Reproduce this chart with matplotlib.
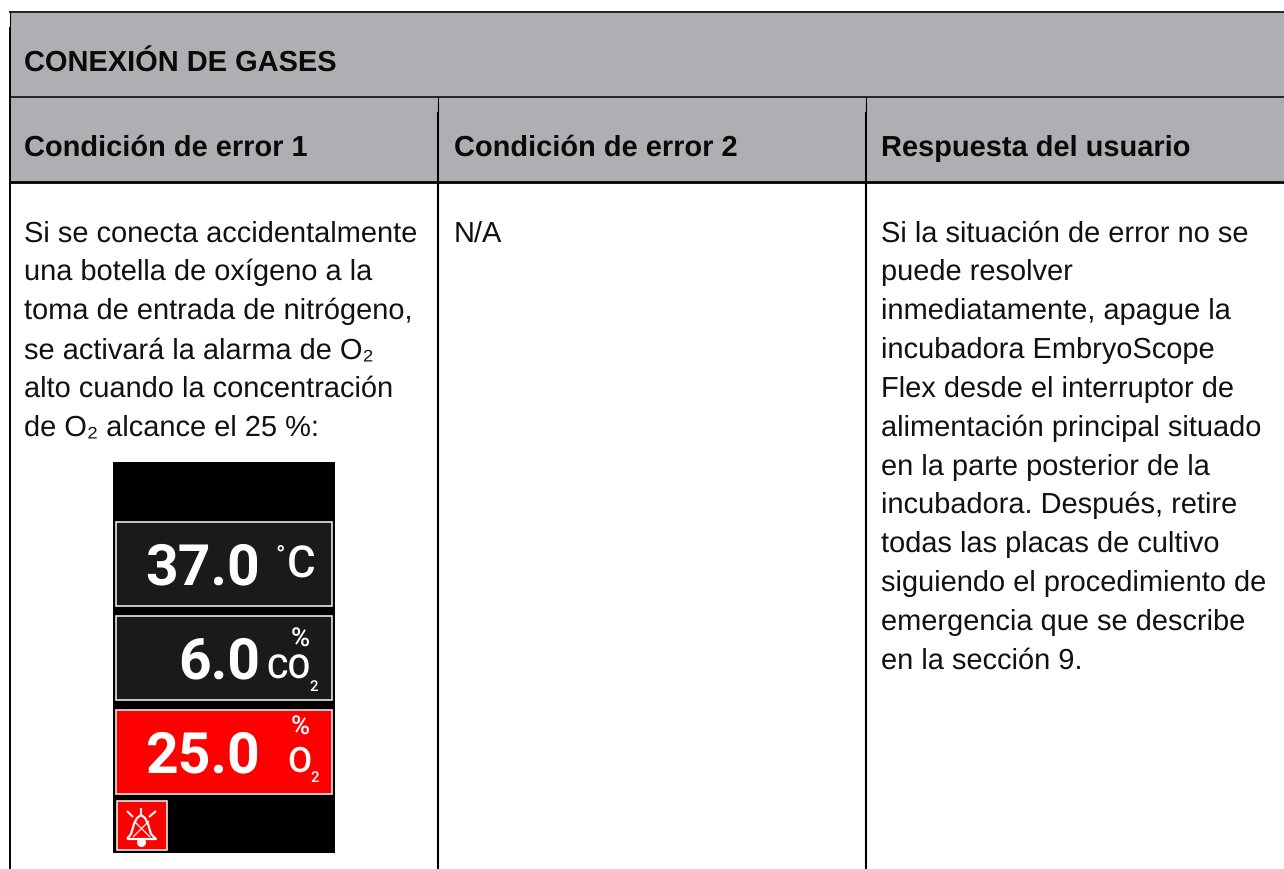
import matplotlib
matplotlib.use("Agg")
import matplotlib.pyplot as plt
from matplotlib.patches import Rectangle

plt.rcParams["font.family"] = ["Liberation Sans", "DejaVu Sans"]
plt.rcParams["text.hinting"] = "none"
plt.rcParams["text.hinting_factor"] = 1

TITLE = "CONEXIÓN DE GASES"
HEADERS = ["Condición de error 1", "Condición de error 2", "Respuesta del usuario"]
COL1_LINES = [
    "Si se conecta accidentalmente",
    "una botella de oxígeno a la",
    "toma de entrada de nitrógeno,",
    "se activará la alarma de O₂",
    "alto cuando la concentración",
    "de O₂ alcance el 25 %:",
]
COL2_LINES = ["N/A"]
COL3_LINES = [
    "Si la situación de error no se",
    "puede resolver",
    "inmediatamente, apague la",
    "incubadora EmbryoScope",
    "Flex desde el interruptor de",
    "alimentación principal situado",
    "en la parte posterior de la",
    "incubadora. Después, retire",
    "todas las placas de cultivo",
    "siguiendo el procedimiento de",
    "emergencia que se describe",
    "en la sección 9.",
]
READINGS = ["37.0", "6.0", "25.0"]

GREY = "#aeafb3"
LINE_H = 38.85
FS = 21.1

fig = plt.figure(figsize=(12.84, 8.7), dpi=100)
ax = fig.add_axes([0, 0, 1, 1])
ax.set_xlim(0, 1284)
ax.set_ylim(870, 0)
ax.axis("off")


def box(x0, y0, x1, y1, color, edge="none", lw=0, z=1):
    ax.add_patch(Rectangle((x0, y0), x1 - x0, y1 - y0, facecolor=color,
                           edgecolor=edge, linewidth=lw, zorder=z))


def line(xs, ys, lw=1.0, color="black", z=3):
    ax.plot(xs, ys, color=color, lw=lw, solid_capstyle="butt", zorder=z)


# cabeceras
box(10, 12, 1284, 182, GREY)
line([9, 1284], [12.5, 12.5], 1.1)
line([10, 1284], [97.5, 97.5], 1.1)
line([10, 1284], [182.5, 182.5], 2.0)
line([10, 10], [28, 870], 1.4)
line([9.5, 9.5], [12, 28], 0.8)
for xv in [437.5, 866]:
    line([xv, xv], [98, 113], 0.8)
    line([xv, xv], [113, 870], 1.5)

ax.text(24, 70.5, TITLE, fontsize=FS, fontweight="bold", va="baseline", color="#0a0a0a")
for xt, label in zip([24, 454, 881], HEADERS):
    ax.text(xt, 156, label, fontsize=FS, fontweight="bold", va="baseline", color="#0a0a0a")

# cuerpo
for xt, lines in zip([24, 454, 881], [COL1_LINES, COL2_LINES, COL3_LINES]):
    for i, txt in enumerate(lines):
        ax.text(xt, 241.5 + i * LINE_H, txt, fontsize=FS, va="baseline", color="#111111")

# pantalla de la incubadora
box(113, 462.5, 335, 854, "black", z=2)
panels = [(522.5, 607, "#1a1a1a"), (616.5, 701, "#1a1a1a"), (710.5, 795, "#ff0000")]
for (y0, y1, col), val in zip(panels, READINGS):
    box(116, y0, 332, y1, col, edge="#e6e6e6", lw=1.2, z=3)
    ax.text(260, y0 + 61.5, val, fontsize=41, fontweight="bold", color="white",
            family="Roboto", ha="right", va="baseline", zorder=4)

unit = dict(color="white", family="Roboto", fontweight="medium", zorder=4, va="center")
ax.text(280, 556, "°", fontsize=18, ha="center", **unit)
ax.text(301, 566, "C", fontsize=32, ha="center", **unit)
ax.text(300, 640, "%", fontsize=19, ha="center", **unit)
ax.text(289, 670, "CO", fontsize=24, ha="center", **unit)
ax.text(314, 687, "2", fontsize=11, ha="center", **unit)
ax.text(300, 728, "%", fontsize=19, ha="center", **unit)
ax.text(299, 762, "O", fontsize=25, ha="center", **unit)
ax.text(315, 778, "2", fontsize=11, ha="center", **unit)

# icono de alarma
box(117, 801.5, 167, 851, "#ff0000", edge="#e6e6e6", lw=1.2, z=3)
line([127, 131, 134, 137, 141, 145, 148, 151, 156, 127], [840, 835, 825, 819, 816, 819, 825, 835, 840, 840],
     1.6, "white", 4)
line([141, 141], [809, 815], 1.5, "white", 4)
line([127, 133], [812, 818], 1.5, "white", 4)
line([156, 149], [812, 818], 1.5, "white", 4)
line([133, 149], [838, 822], 0.9, "white", 4)
line([134, 150], [822, 838], 0.9, "white", 4)
ax.plot([141], [843], "o", ms=5.5, color="white", zorder=4)

fig.savefig("out.png", dpi=100)
